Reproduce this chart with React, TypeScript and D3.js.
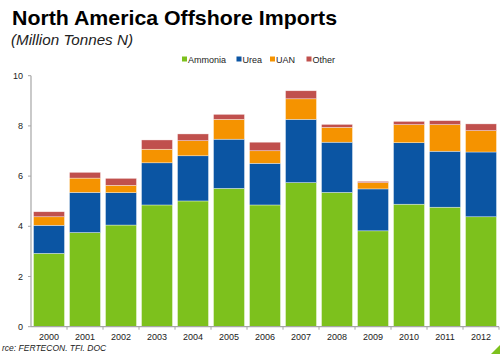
import React from "react";
import * as d3 from "d3";

const years = ["2000","2001","2002","2003","2004","2005","2006","2007","2008","2009","2010","2011","2012"];
const ammonia = [2.92, 3.75, 4.05, 4.85, 5.01, 5.51, 4.85, 5.74, 5.35, 3.82, 4.88, 4.76, 4.38];
const urea = [1.12, 1.6, 1.29, 1.68, 1.8, 1.96, 1.66, 2.52, 2.0, 1.67, 2.45, 2.23, 2.58];
const uan = [0.34, 0.57, 0.29, 0.54, 0.6, 0.79, 0.5, 0.82, 0.59, 0.25, 0.72, 1.06, 0.85];
const other = [0.2, 0.23, 0.28, 0.37, 0.27, 0.2, 0.34, 0.32, 0.12, 0.05, 0.13, 0.16, 0.27];
const seriesNames = ["Ammonia", "Urea", "UAN", "Other"];
const colors = ["#7DC11D", "#0B55A3", "#F59300", "#C0504D"];
const yTicks = [0, 2, 4, 6, 8, 10];

export default function App() {
  const W = 500, H = 354;
  const x0 = 31, x1 = 499, yTop = 75.7, yBot = 326.7;
  const x = d3.scaleBand().domain(years).range([x0, x1]).paddingInner(0.14).paddingOuter(0.07);
  const y = d3.scaleLinear().domain([0, 10]).range([yBot, yTop]);
  const rows = years.map((yr, i) => ({ year: yr, Ammonia: ammonia[i], Urea: urea[i], UAN: uan[i], Other: other[i] }));
  const stacked = d3.stack().keys(seriesNames)(rows as any);
  const step = x.step();
  const legendX = [182, 236.5, 270, 306.5];
  const font = "Arial, 'Liberation Sans', sans-serif";
  return (
    <svg width={W} height={H} style={{ position: "absolute", left: 0, top: 0, background: "#fff" }}>
      <text x={12} y={25} fontFamily={font} fontWeight="bold" fontSize={20.5} fill="#000" textLength={325} lengthAdjust="spacingAndGlyphs">North America Offshore Imports</text>
      <text x={11} y={45} fontFamily={font} fontStyle="italic" fontSize={15} fill="#222" textLength={122} lengthAdjust="spacingAndGlyphs">(Million Tonnes N)</text>
      {seriesNames.map((s, i) => (
        <g key={s}>
          <rect x={legendX[i]} y={56.5} width={5} height={5} fill={colors[i]} />
          <text x={legendX[i] + 6} y={62.5} fontFamily={font} fontSize={9} fill="#222">{s}</text>
        </g>
      ))}
      {stacked.map((layer, si) => (
        <g key={si}>
          {layer.map((d, i) => (
            <rect key={i} x={x(years[i])} y={y(d[1])} width={x.bandwidth()} height={y(d[0]) - y(d[1])}
              fill={colors[si]} stroke="#ffffff" strokeOpacity={0.6} strokeWidth={0.6} />
          ))}
        </g>
      ))}
      <line x1={x0} x2={x0} y1={yTop} y2={yBot} stroke="#a6a6a6" strokeWidth={1.2} />
      <line x1={x0} x2={x1} y1={yBot} y2={yBot} stroke="#a6a6a6" strokeWidth={1.2} />
      {yTicks.map(t => (
        <g key={t}>
          <line x1={x0 - 3} x2={x0} y1={y(t)} y2={y(t)} stroke="#a6a6a6" />
          <text x={23} y={y(t) + 3} textAnchor="end" fontFamily={font} fontSize={9} fill="#222">{t}</text>
        </g>
      ))}
      {years.map((yr, i) => (
        <g key={yr}>
          <line x1={x0 + (i + 1) * step} x2={x0 + (i + 1) * step} y1={yBot} y2={yBot + 3} stroke="#a6a6a6" />
          <text x={(x(yr) as number) + x.bandwidth() / 2} y={340} textAnchor="middle" fontFamily={font} fontSize={9} fill="#222">{yr}</text>
        </g>
      ))}
      <text x={2} y={351} fontFamily={font} fontStyle="italic" fontSize={8.5} fill="#222">rce:  FERTECON. TFI. DOC</text>
      <polygon points="500,345 500,354 491,354" fill="#7DC11D" />
    </svg>
  );
}
